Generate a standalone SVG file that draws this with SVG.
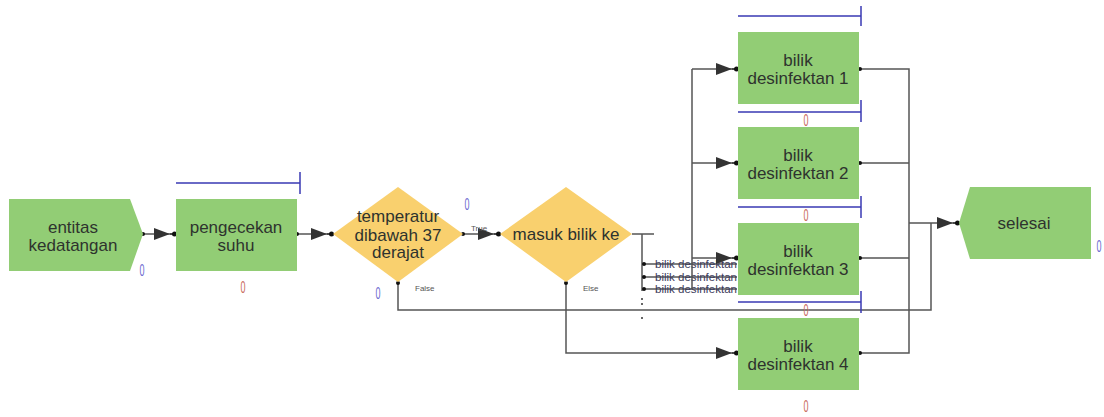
<svg xmlns="http://www.w3.org/2000/svg" width="1104" height="417" viewBox="0 0 1104 417">
<style>
.node{fill:#92cd75;}
.dec{fill:#f9d06e;}
.lbl{font-family:"Liberation Sans",Arial,sans-serif;font-size:17px;fill:#2e332e;text-anchor:middle;}
.small{font-family:"Liberation Sans",Arial,sans-serif;font-size:8px;fill:#555;}
.br{font-family:"Liberation Sans",Arial,sans-serif;font-size:11px;fill:#3c3c5c;}
.q{fill:none;stroke:#3a3ab4;stroke-width:1.5;}
.zb{font-family:"Liberation Sans",Arial,sans-serif;font-size:17px;fill:#6a6ad0;text-anchor:middle;}
.zr{font-family:"Liberation Sans",Arial,sans-serif;font-size:17px;fill:#c86a5a;text-anchor:middle;}
.c{fill:none;stroke:#555;stroke-width:1.5;}
</style>
<defs>
<marker id="arr" markerUnits="userSpaceOnUse" viewBox="-24 -8 26 16" refX="0" refY="0" markerWidth="26" markerHeight="16" orient="auto">
<path d="M-22,-6 L-6,0 L-22,6 Z" fill="#333"/>
<path d="M-6,0 L0,0" stroke="#333" stroke-width="1.5"/>
<circle cx="-1.5" cy="0" r="2.5" fill="#111"/>
</marker>
<marker id="dot" markerUnits="userSpaceOnUse" viewBox="-3 -3 6 6" refX="0" refY="0" markerWidth="6" markerHeight="6">
<circle cx="0" cy="0" r="2" fill="#111"/>
</marker>
</defs>

<g id="connectors">
<path class="c" d="M143,234 L176,234" marker-start="url(#dot)" marker-end="url(#arr)"/>
<path class="c" d="M297,234 L333,234" marker-start="url(#dot)" marker-end="url(#arr)"/>
<path class="c" d="M463,234 L500,234" marker-start="url(#dot)" marker-end="url(#arr)"/>
<text class="small" x="471" y="231">True</text>
<path class="c" d="M632,234 L654,234 M642,234 L642,291"/>
<path class="c" d="M643,264 L737,264 M643,277 L737,277 M643,289 L737,289"/>
<circle cx="644" cy="264" r="2" fill="#111"/>
<circle cx="644" cy="277" r="2" fill="#111"/>
<circle cx="644" cy="289" r="2" fill="#111"/>
<circle cx="642" cy="299" r="1" fill="#333"/>
<circle cx="642" cy="304" r="1" fill="#333"/>
<circle cx="642" cy="318" r="1" fill="#333"/>
<text class="br" x="655" y="268" textLength="82" lengthAdjust="spacingAndGlyphs">bilik desinfektan</text>
<text class="br" x="655" y="281" textLength="82" lengthAdjust="spacingAndGlyphs">bilik desinfektan</text>
<text class="br" x="655" y="293" textLength="82" lengthAdjust="spacingAndGlyphs">bilik desinfektan</text>
<path class="c" d="M692,289 L692,69"/>
<path class="c" d="M692,69 L738,69" marker-end="url(#arr)"/>
<path class="c" d="M692,163 L738,163" marker-end="url(#arr)"/>
<path class="c" d="M692,258 L738,258" marker-end="url(#arr)"/>
<path class="c" d="M398,283 L398,310 L931,310 L931,223"/>
<text class="small" x="415" y="291">False</text>
<path class="c" d="M566,283 L566,353 L738,353" marker-end="url(#arr)"/>
<text class="small" x="583" y="291">Else</text>
<circle cx="398" cy="283" r="2" fill="#111"/>
<circle cx="566" cy="283" r="2" fill="#111"/>
<path class="c" d="M859,69 L909,69 L909,353 L859,353 M859,163 L909,163 M859,258 L909,258"/>
<circle cx="860" cy="69" r="2" fill="#111"/>
<circle cx="860" cy="163" r="2" fill="#111"/>
<circle cx="860" cy="258" r="2" fill="#111"/>
<circle cx="860" cy="353" r="2" fill="#111"/>
<path class="c" d="M909,223 L959,223" marker-end="url(#arr)"/>
</g>

<g id="entitas">
<path class="node" d="M9,199 L130,199 L143,234 L130,271 L9,271 Z"/>
<text class="lbl" x="73" y="233">entitas</text>
<text class="lbl" x="73" y="251">kedatangan</text>
<text class="zb" x="142" y="276" textLength="5" lengthAdjust="spacingAndGlyphs">0</text>
</g>

<g id="pengecekan">
<path class="q" d="M176,183 L300,183 M300,172 L300,194"/>
<rect class="node" x="176" y="199" width="121" height="72"/>
<text class="lbl" x="236" y="233">pengecekan</text>
<text class="lbl" x="236" y="251">suhu</text>
<text class="zr" x="243" y="293" textLength="5" lengthAdjust="spacingAndGlyphs">0</text>
</g>

<g id="temperatur">
<path class="dec" d="M333,234 L398,187 L463,234 L398,282 Z"/>
<text class="lbl" x="398" y="222">temperatur</text>
<text class="lbl" x="398" y="241">dibawah 37</text>
<text class="lbl" x="398" y="258">derajat</text>
<text class="zb" x="467" y="210" textLength="5" lengthAdjust="spacingAndGlyphs">0</text>
<text class="zb" x="378" y="299" textLength="5" lengthAdjust="spacingAndGlyphs">0</text>
</g>

<g id="masuk">
<path class="dec" d="M500,234 L566,187 L632,234 L566,282 Z"/>
<text class="lbl" x="566" y="240">masuk bilik ke</text>
</g>

<g id="bilik1">
<path class="q" d="M738,16 L861,16 M861,6 L861,26"/>
<rect class="node" x="738" y="32" width="121" height="72"/>
<text class="lbl" x="798" y="66">bilik</text>
<text class="lbl" x="798" y="84">desinfektan 1</text>
<text class="zr" x="806" y="126" textLength="5" lengthAdjust="spacingAndGlyphs">0</text>
</g>

<g id="bilik2">
<path class="q" d="M738,112 L861,112 M861,100 L861,122"/>
<rect class="node" x="738" y="127" width="121" height="72"/>
<text class="lbl" x="798" y="161">bilik</text>
<text class="lbl" x="798" y="179">desinfektan 2</text>
<text class="zr" x="806" y="221" textLength="5" lengthAdjust="spacingAndGlyphs">0</text>
</g>

<g id="bilik3">
<path class="q" d="M738,207 L861,207 M861,196 L861,218"/>
<rect class="node" x="738" y="223" width="121" height="72"/>
<text class="lbl" x="798" y="257">bilik</text>
<text class="lbl" x="798" y="275">desinfektan 3</text>
<text class="zr" x="806" y="316" textLength="5" lengthAdjust="spacingAndGlyphs">0</text>
</g>

<g id="bilik4">
<path class="q" d="M738,302 L861,302 M861,291 L861,313"/>
<rect class="node" x="738" y="318" width="121" height="72"/>
<text class="lbl" x="798" y="352">bilik</text>
<text class="lbl" x="798" y="370">desinfektan 4</text>
<text class="zr" x="806" y="412" textLength="5" lengthAdjust="spacingAndGlyphs">0</text>
</g>

<g id="selesai">
<path class="node" d="M970,187 L1091,187 L1091,259 L970,259 L959,223 Z"/>
<text class="lbl" x="1024" y="229">selesai</text>
<text class="zb" x="1099" y="252" textLength="5" lengthAdjust="spacingAndGlyphs">0</text>
</g>
</svg>
